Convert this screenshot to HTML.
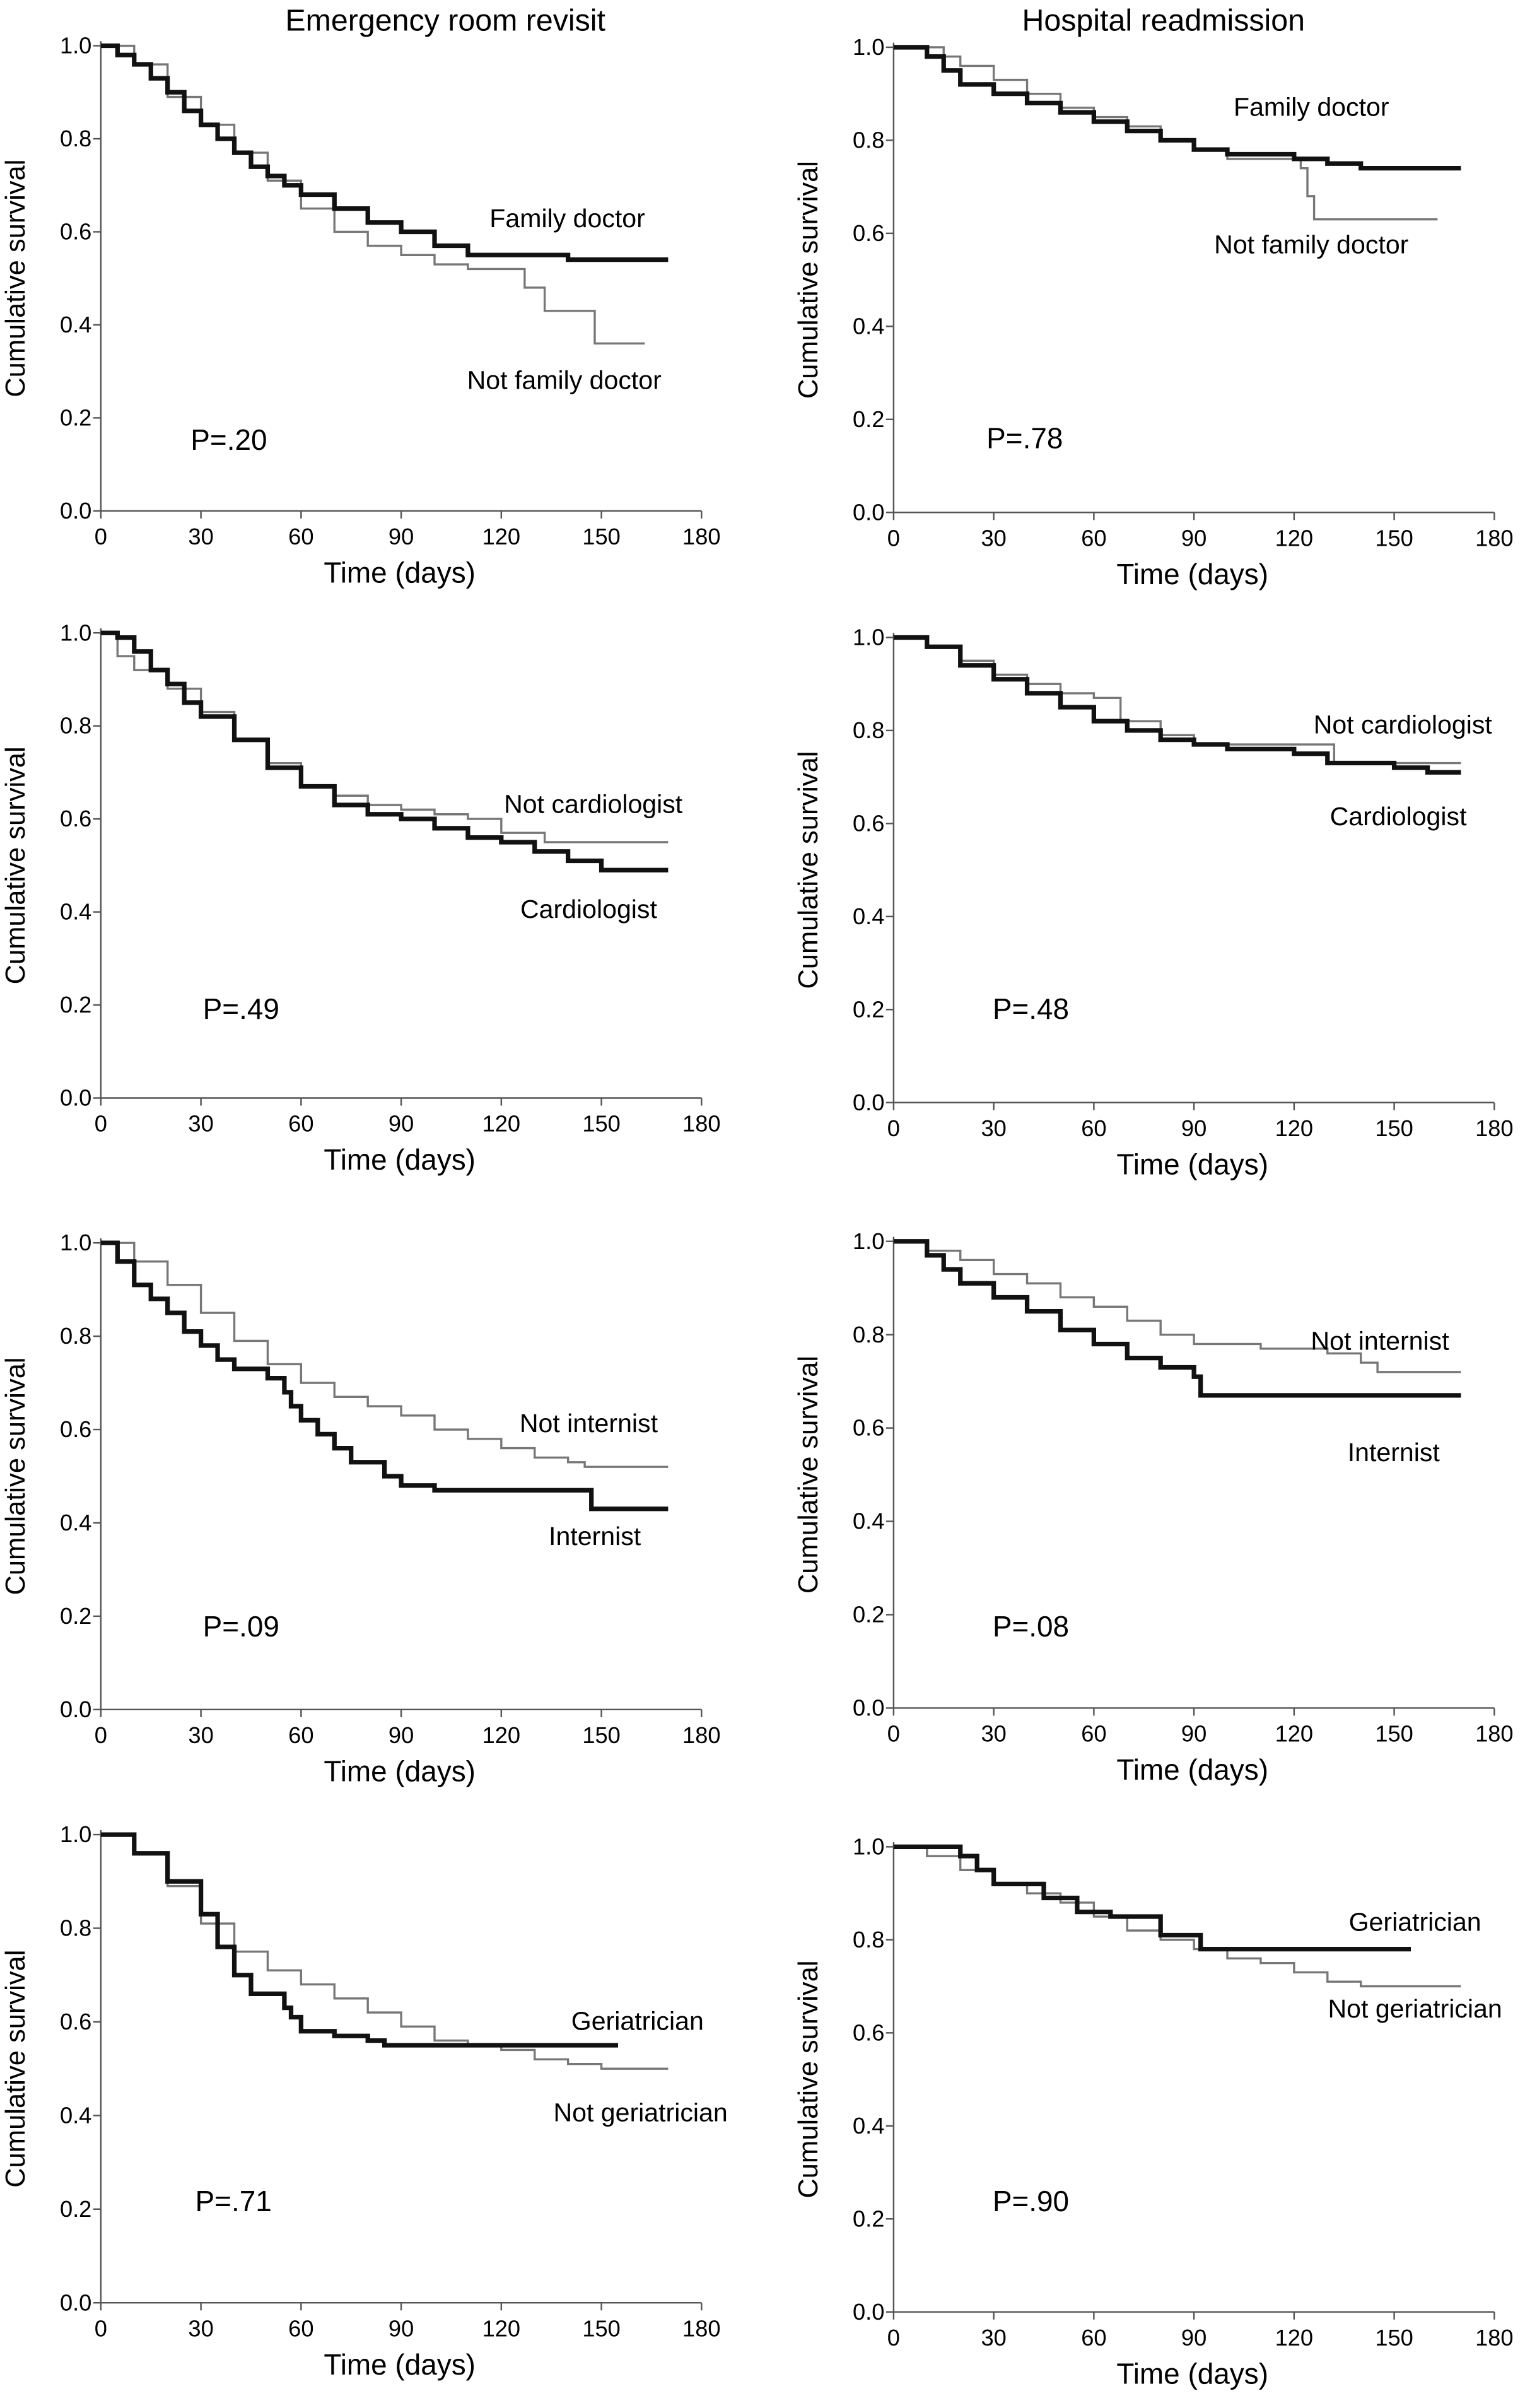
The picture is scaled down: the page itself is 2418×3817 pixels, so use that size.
<!DOCTYPE html>
<html><head><meta charset="utf-8"><style>
html,body{margin:0;padding:0;background:#fff}
svg{display:block;font-family:"Liberation Sans",Arial,sans-serif}
</style></head><body>
<svg id="fig" width="2418" height="3817" viewBox="0 0 1000 1579" xmlns="http://www.w3.org/2000/svg">
<text x="292" y="20" font-size="20" text-anchor="middle">Emergency room revisit</text>
<text x="763" y="20" font-size="20" text-anchor="middle">Hospital readmission</text>
</svg>
<script>
const xTicks=[0,30,60,90,120,150,180];
const yTicks=[0.0,0.2,0.4,0.6,0.8,1.0];
// series: [day, survival] step points
const erFamThick=[[0,1],[5,.98],[10,.96],[15,.93],[20,.9],[25,.86],[30,.83],[35,.8],[40,.77],[45,.74],[50,.72],[55,.7],[60,.68],[70,.65],[80,.62],[90,.6],[100,.57],[110,.55],[140,.54],[170,.54]];
const erFamThin=[[0,1],[10,.96],[20,.89],[30,.83],[40,.77],[50,.71],[60,.65],[70,.6],[80,.57],[90,.55],[100,.53],[110,.52],[127,.48],[133,.43],[148,.36],[163,.36]];
const hrFamThick=[[0,1],[10,.98],[15,.95],[20,.92],[30,.9],[40,.88],[50,.86],[60,.84],[70,.82],[80,.8],[90,.78],[100,.77],[120,.76],[130,.75],[140,.74],[170,.74]];
const hrFamThin=[[0,1],[15,.98],[20,.96],[30,.93],[40,.9],[50,.87],[60,.85],[70,.83],[80,.8],[90,.78],[100,.76],[122,.74],[124,.68],[126,.63],[163,.63]];
const erCarThick=[[0,1],[5,.99],[10,.96],[15,.92],[20,.89],[25,.85],[30,.82],[40,.77],[50,.71],[60,.67],[70,.63],[80,.61],[90,.6],[100,.58],[110,.56],[120,.55],[130,.53],[140,.51],[150,.49],[170,.49]];
const erCarThin=[[0,1],[5,.95],[10,.92],[20,.88],[30,.83],[40,.77],[50,.72],[60,.67],[70,.65],[80,.63],[90,.62],[100,.61],[110,.6],[120,.57],[133,.55],[170,.55]];
const hrCarThick=[[0,1],[10,.98],[20,.94],[30,.91],[40,.88],[50,.85],[60,.82],[70,.8],[80,.78],[90,.77],[100,.76],[120,.75],[130,.73],[150,.72],[160,.71],[170,.71]];
const hrCarThin=[[0,1],[10,.98],[20,.95],[30,.92],[40,.9],[50,.88],[60,.87],[68,.82],[80,.79],[90,.77],[132,.73],[170,.73]];
const erIntThick=[[0,1],[5,.96],[10,.91],[15,.88],[20,.85],[25,.81],[30,.78],[35,.75],[40,.73],[50,.71],[55,.68],[57,.65],[60,.62],[65,.59],[70,.56],[75,.53],[85,.5],[90,.48],[100,.47],[147,.43],[170,.43]];
const erIntThin=[[0,1],[10,.96],[20,.91],[30,.85],[40,.79],[50,.74],[60,.7],[70,.67],[80,.65],[90,.63],[100,.6],[110,.58],[120,.56],[130,.54],[140,.53],[145,.52],[170,.52]];
const hrIntThick=[[0,1],[10,.97],[15,.94],[20,.91],[30,.88],[40,.85],[50,.81],[60,.78],[70,.75],[80,.73],[90,.71],[92,.67],[170,.67]];
const hrIntThin=[[0,1],[10,.98],[20,.96],[30,.93],[40,.91],[50,.88],[60,.86],[70,.83],[80,.8],[90,.78],[110,.77],[130,.76],[140,.74],[145,.72],[170,.72]];
const erGerThick=[[0,1],[10,.96],[20,.9],[30,.83],[35,.76],[40,.7],[45,.66],[55,.63],[57,.61],[60,.58],[70,.57],[80,.56],[85,.55],[155,.55]];
const erGerThin=[[0,1],[10,.96],[20,.89],[30,.81],[40,.75],[50,.71],[60,.68],[70,.65],[80,.62],[90,.59],[100,.56],[110,.55],[120,.54],[130,.52],[140,.51],[150,.5],[170,.5]];
const hrGerThick=[[0,1],[20,.98],[25,.95],[30,.92],[45,.89],[55,.86],[65,.85],[80,.81],[92,.78],[155,.78]];
const hrGerThin=[[0,1],[10,.98],[20,.95],[30,.92],[40,.9],[50,.88],[60,.85],[70,.82],[80,.8],[90,.78],[100,.76],[110,.75],[120,.73],[130,.71],[140,.7],[170,.7]];

const NS="http://www.w3.org/2000/svg";
const svg=document.getElementById('fig');
function mk(tag,attrs,parent){const e=document.createElementNS(NS,tag);for(const k in attrs)e.setAttribute(k,attrs[k]);(parent||svg).appendChild(e);return e;}
function txt(parent,x,y,s,size,anchor,name){const t=mk('text',{x:x,y:y,'font-size':size,'text-anchor':anchor||'start'},parent);t.textContent=s;


return t;}
function panel(id,x0,x1,yTop,yBot,thick,thin,labels,pText,pPos){
  const g=mk('g',{});
  
  
  const X=d=>x0+(x1-x0)*d/180, Y=v=>yBot-(yBot-yTop)*v;
  mk('path',{d:`M${x0},${yTop-3}V${yBot}H${x1}`,fill:'none',stroke:'#555','stroke-width':1},g);
  yTicks.forEach(v=>{mk('line',{x1:x0-5,x2:x0,y1:Y(v),y2:Y(v),stroke:'#555'},g);txt(g,x0-6,Y(v)+5,v.toFixed(1),15,'end','y-tick-label');});
  xTicks.forEach(d=>{mk('line',{x1:X(d),x2:X(d),y1:yBot,y2:yBot+5,stroke:'#555'},g);txt(g,X(d),yBot+22,String(d),15,'middle','x-tick-label');});
  const ax=txt(g,0,0,'Cumulative survival',18,'middle','y-axis-title');ax.setAttribute('transform',`translate(${x0-50},${(yTop+yBot)/2}) rotate(-90)`);
  txt(g,(x0+x1)/2-1,yBot+47,'Time (days)',19,'middle','x-axis-title');
  function step(pts,w,col,name){let d=`M${X(pts[0][0])},${Y(pts[0][1])}`;for(let i=1;i<pts.length;i++){d+=`H${X(pts[i][0])}V${Y(pts[i][1])}`;}
    const p=mk('path',{d:d,fill:'none',stroke:col,'stroke-width':w},g);
    
    }
  step(thin,1.4,'#777','thin-curve');
  step(thick,3,'#111','thick-curve');
  labels.forEach(l=>txt(g,l[1],l[2],l[0],17,'middle','curve-label'));
  txt(g,pPos[0],pPos[1],pText,19,'middle','p-value');
}
panel('panel-er-family',66,460,30,335,erFamThick,erFamThin,[['Family doctor',372,149],['Not family doctor',370,255]],'P=.20',[150,295]);
panel('panel-hr-family',586,980,31,336,hrFamThick,hrFamThin,[['Family doctor',860,76],['Not family doctor',860,166]],'P=.78',[672,294]);
panel('panel-er-cardiologist',66,460,415,720,erCarThick,erCarThin,[['Not cardiologist',389,533],['Cardiologist',386,602]],'P=.49',[158,668]);
panel('panel-hr-cardiologist',586,980,418,723,hrCarThick,hrCarThin,[['Not cardiologist',920,481],['Cardiologist',917,541]],'P=.48',[676,668]);
panel('panel-er-internist',66,460,815,1121,erIntThick,erIntThin,[['Not internist',386,939],['Internist',390,1013]],'P=.09',[158,1073]);
panel('panel-hr-internist',586,980,814,1120,hrIntThick,hrIntThin,[['Not internist',905,885],['Internist',914,958]],'P=.08',[676,1073]);
panel('panel-er-geriatrician',66,460,1203,1510,erGerThick,erGerThin,[['Geriatrician',418,1331],['Not geriatrician',420,1391]],'P=.71',[153,1450]);
panel('panel-hr-geriatrician',586,980,1211,1516,hrGerThick,hrGerThin,[['Geriatrician',928,1266],['Not geriatrician',928,1323]],'P=.90',[676,1450]);
</script>
</body></html>
